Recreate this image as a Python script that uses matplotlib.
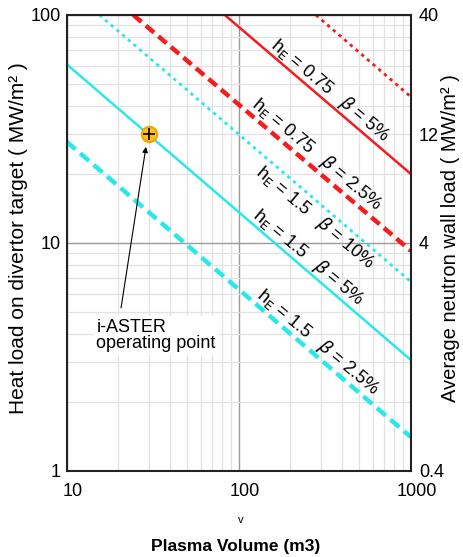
import matplotlib
matplotlib.use("Agg")
import matplotlib.pyplot as plt
import matplotlib.transforms as mtransforms
from matplotlib.ticker import FixedLocator, FixedFormatter, NullFormatter

plt.rcParams['font.family'] = ['Liberation Sans', 'DejaVu Sans']

# curves: (V start, V end), (q start, q end)
red_solid_v = [83, 1000];   red_solid_q = [100, 20.1]
red_dot_v = [281, 1000];    red_dot_q = [100, 43.8]
red_dash_v = [24.4, 1000];  red_dash_q = [100, 9.25]
cyan_dot_v = [15.5, 1000];  cyan_dot_q = [100, 6.77]
cyan_solid_v = [10, 1000];  cyan_solid_q = [60.8, 3.07]
cyan_dash_v = [10, 1000];   cyan_dash_q = [27.8, 1.41]

op_v = 30
op_q = 30

curve_labels = [r'h$_\mathrm{E}$ = 0.75   $\beta$ = 5%',
                r'h$_\mathrm{E}$ = 0.75   $\beta$ = 2.5%',
                r'h$_\mathrm{E}$ = 1.5   $\beta$ = 10%',
                r'h$_\mathrm{E}$ = 1.5   $\beta$ = 5%',
                r'h$_\mathrm{E}$ = 1.5   $\beta$ = 2.5%']
label_v = [340, 285, 278, 253, 290]
label_q = [46.5, 24.6, 12.9, 8.7, 3.68]

right_ticks = [0.4, 4, 12, 40]
right_labels = ['0.4', '4', '12', '40']

red = '#f41c1c'
cyan = '#2ae8ea'

fig = plt.figure(figsize=(4.64, 5.57), dpi=100)
ax = fig.add_axes([0.1437, 0.1544, 0.7415, 0.8187])
ax.set_xscale('log')
ax.set_yscale('log')
ax.set_xlim(10, 1000)
ax.set_ylim(1, 100)

ax.grid(True, which='minor', color='#e2e2e2', lw=0.9)
ax.grid(True, which='major', color='#9a9a9a', lw=1.0)
ax.set_axisbelow(True)

ax.plot(red_solid_v, red_solid_q, color=red, lw=1.8)
ax.plot(red_dot_v, red_dot_q, color=red, lw=2, ls=(0, (1.2, 1.5)))
ax.plot(red_dash_v, red_dash_q, color=red, lw=3.2, ls=(0, (2.4, 1.3)))
ax.plot(cyan_dot_v, cyan_dot_q, color=cyan, lw=2, ls=(0, (1.2, 1.5)))
ax.plot(cyan_solid_v, cyan_solid_q, color=cyan, lw=1.8)
ax.plot(cyan_dash_v, cyan_dash_q, color=cyan, lw=3.2, ls=(0, (2.6, 1.4)))

for txt, v, q in zip(curve_labels, label_v, label_q):
    ax.text(v, q, txt, rotation=-40, fontsize=13, ha='center', va='center',
            rotation_mode='anchor')

ax.plot(op_v, op_q, 'o', ms=11, mfc='#ffc21a', mec='#f5a300', mew=1.5, zorder=5)
ax.plot(op_v, op_q, '+', ms=9, color='black', mew=1.2, zorder=6)

ax.annotate('', xy=(28.9, 26.4), xytext=(20.7, 5.19),
            arrowprops=dict(arrowstyle='-|>', color='black', lw=0.8,
                            mutation_scale=8, shrinkA=0, shrinkB=0))
ax.text(14.9, 3.94, 'i-ASTER\noperating point', fontsize=13, ha='left',
        va='center', linespacing=0.95,
        bbox=dict(facecolor='white', edgecolor='none', pad=2))

ax.tick_params(which='both', length=0, labelsize=13)
ax.tick_params(axis='x', pad=9)
ax.tick_params(axis='y', pad=4)
ax.xaxis.set_major_locator(FixedLocator([10, 100, 1000]))
ax.xaxis.set_major_formatter(FixedFormatter(['10', '100', '1000']))
ax.yaxis.set_major_locator(FixedLocator([1, 10, 100]))
ax.yaxis.set_major_formatter(FixedFormatter(['1', '10', '100']))
ax.xaxis.set_minor_formatter(NullFormatter())
ax.yaxis.set_minor_formatter(NullFormatter())
shift = mtransforms.ScaledTranslation(6 / 100, 0, fig.dpi_scale_trans)
for lab in ax.get_xticklabels():
    lab.set_transform(lab.get_transform() + shift)
for s in ax.spines.values():
    s.set_linewidth(1.5)
    s.set_color('#222222')

ax.set_ylabel('Heat load on divertor target ( MW/m² )', fontsize=15)
ax.yaxis.set_label_coords(-0.1125, 0.51)

fig.text(241 / 464, 1 - 520 / 557, 'v', fontsize=8, ha='center', va='center')
fig.text(236 / 464, 1 - 547 / 557, 'Plasma Volume (m3)', fontsize=12.5,
         fontweight='bold', ha='center', va='center')

ax2 = ax.twinx()
ax2.set_yscale('log')
ax2.set_ylim(0.4, 40)
ax2.yaxis.set_major_locator(FixedLocator(right_ticks))
ax2.yaxis.set_major_formatter(FixedFormatter(right_labels))
ax2.yaxis.set_minor_locator(FixedLocator([]))
ax2.tick_params(which='both', length=0, labelsize=13, pad=6)
ax2.set_ylabel('Average neutron wall load ( MW/m² )', fontsize=14.5)
ax2.yaxis.set_label_coords(1.088, 0.51)
for s in ax2.spines.values():
    s.set_visible(False)

fig.savefig('out.png', dpi=100)
